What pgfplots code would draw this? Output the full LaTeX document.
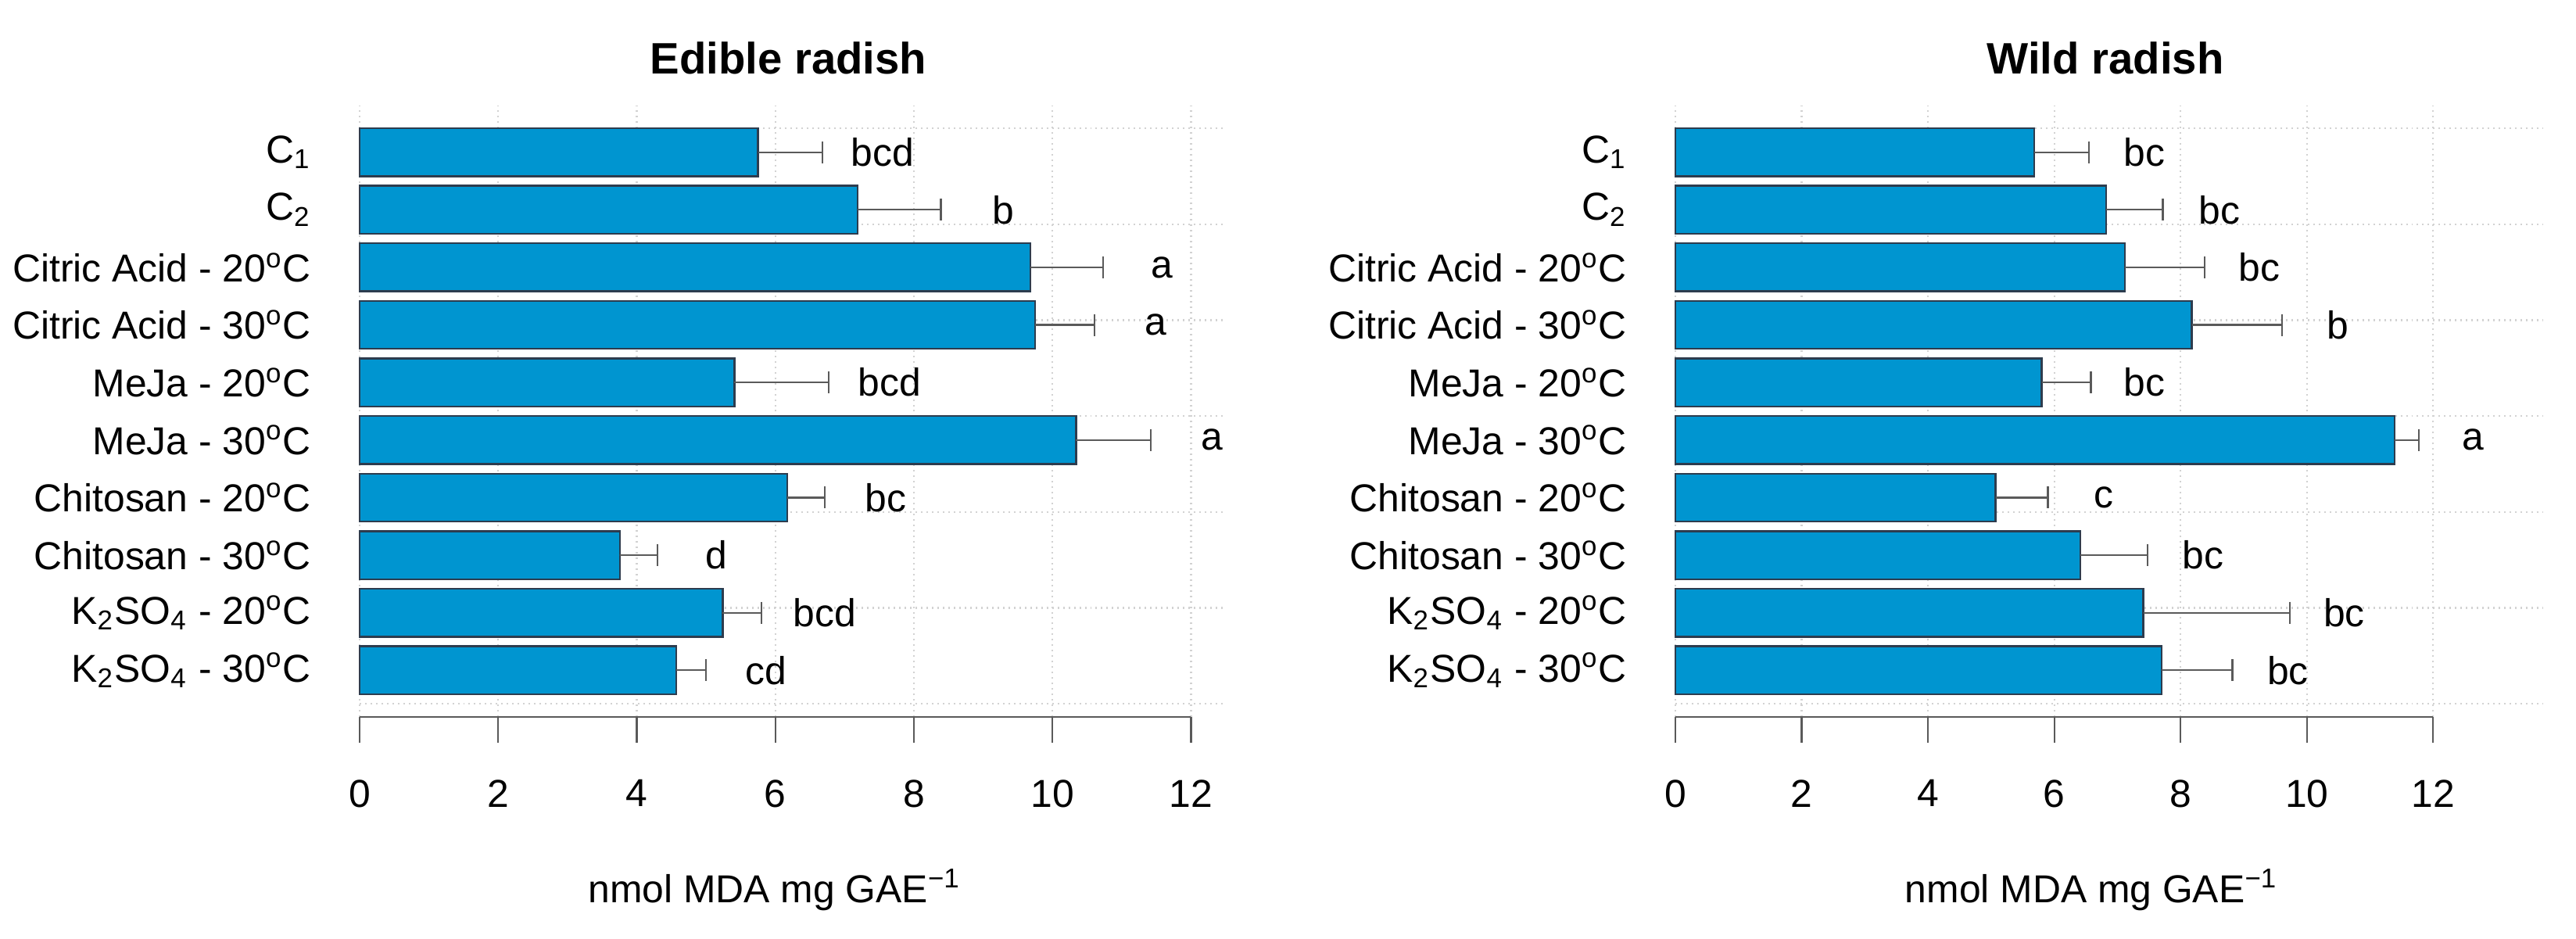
\documentclass[border=0pt]{standalone}
\usepackage{fontspec}
\setmainfont{Liberation Sans}
\usepackage{pgfplots}
\pgfplotsset{compat=1.18}
\usepackage{pgfplotstable}

\definecolor{barblue}{RGB}{0,149,208}
\definecolor{barline}{RGB}{45,60,78}
\definecolor{errgray}{RGB}{90,90,90}
\definecolor{gridgray}{RGB}{210,210,210}

% y = bar position, x = mean, err = +error, lx = letter position
\pgfplotstableread{
y    x     err   lx    lab
11.5 5.75  0.93  7.55  bcd
10.3 7.19  1.20  9.29  b
9.1  9.68  1.05  11.58 a
7.9  9.75  0.86  11.49 a
6.7  5.41  1.36  7.65  bcd
5.5  10.34 1.08  12.30 a
4.3  6.17  0.54  7.59  bc
3.1  3.76  0.54  5.15  d
1.9  5.24  0.56  6.71  bcd
0.7  4.57  0.43  5.87  cd
}\edible

\pgfplotstableread{
y    x     err   lx    lab
11.5 5.68  0.87  7.43  bc
10.3 6.82  0.90  8.62  bc
9.1  7.12  1.26  9.25  bc
7.9  8.18  1.43  10.49 b
6.7  5.80  0.78  7.43  bc
5.5  11.39 0.38  12.63 a
4.3  5.07  0.83  6.78  c
3.1  6.41  1.07  8.36  bc
1.9  7.41  2.32  10.59 bc
0.7  7.70  1.12  9.70  bc
}\wild

\newcommand{\lbl}{\fontsize{10}{12}\selectfont}
\newcommand{\dg}{\textsuperscript{o}C}

\pgfplotsset{
  radish/.style={
    scale only axis, height=156.4bp,
    xmin=0, ymin=-0.272, ymax=12.472,
    clip=false,
    axis line style={draw=none},
    tick align=outside,
    major tick length=6.6bp,
    xtick={0,2,...,12},
    xtick pos=bottom,
    xtick style={errgray, line width=0.45bp},
    xticklabel style={font=\lbl, yshift=-6bp},
    /pgf/number format/assume math mode=true,
    xmajorgrids,
    grid style={gridgray, densely dotted, line width=0.45bp},
    ytick={11.5,10.3,9.1,7.9,6.7,5.5,4.3,3.1,1.9,0.7},
    yticklabels={C\textsubscript{1}, C\textsubscript{2},
      Citric Acid - 20\dg, Citric Acid - 30\dg,
      MeJa - 20\dg, MeJa - 30\dg,
      Chitosan - 20\dg, Chitosan - 30\dg,
      K\textsubscript{2}SO\textsubscript{4} - 20\dg,
      K\textsubscript{2}SO\textsubscript{4} - 30\dg},
    ytick style={draw=none},
    yticklabel style={font=\lbl, anchor=east, xshift=-2.3bp},
    extra y ticks={0,2,...,12},
    extra y tick labels={},
    extra y tick style={grid=major, tick style={draw=none}},
    every axis title/.style={at={(axis description cs:0.496,1)}, anchor=base,
      yshift=8.2bp, font=\bfseries\fontsize{11.3}{13}\selectfont},
    every axis x label/.style={at={(axis description cs:0.48,0)}, anchor=base,
      yshift=-47.4bp, font=\lbl},
    xlabel={nmol MDA mg GAE\textsuperscript{−1}},
  },
  bars/.style={xbar, bar width=1, fill=barblue, draw=barline, line width=0.5bp,
    error bars/.cd, x dir=plus, x explicit,
    error bar style={errgray, line width=0.45bp},
    error mark options={errgray, rotate=90, mark size=2.8bp, line width=0.45bp}},
  letters/.style={draw=none, mark=none, nodes near coords,
    point meta=explicit symbolic,
    nodes near coords style={anchor=center, font=\lbl, inner sep=0pt}},
}

\begin{document}
\begin{tikzpicture}
\path[use as bounding box] (0,0) rectangle (659bp,-240.2bp);

\begin{axis}[radish, width=221.2bp, xmax=12.48,
  at={(92bp,-183.4bp)}, anchor=south west, title={Edible radish}]
\addplot[bars] table[x=x, y=y, x error=err] {\edible};
\addplot[letters] table[x=lx, y=y, meta=lab] {\edible};
\draw[errgray, line width=0.45bp] (axis cs:0,-0.272) -- (axis cs:12,-0.272);
\end{axis}

\begin{axis}[radish, width=221.8bp, xmax=13.73,
  at={(428.6bp,-183.4bp)}, anchor=south west, title={Wild radish}]
\addplot[bars] table[x=x, y=y, x error=err] {\wild};
\addplot[letters] table[x=lx, y=y, meta=lab] {\wild};
\draw[errgray, line width=0.45bp] (axis cs:0,-0.272) -- (axis cs:12,-0.272);
\end{axis}
\end{tikzpicture}
\end{document}
